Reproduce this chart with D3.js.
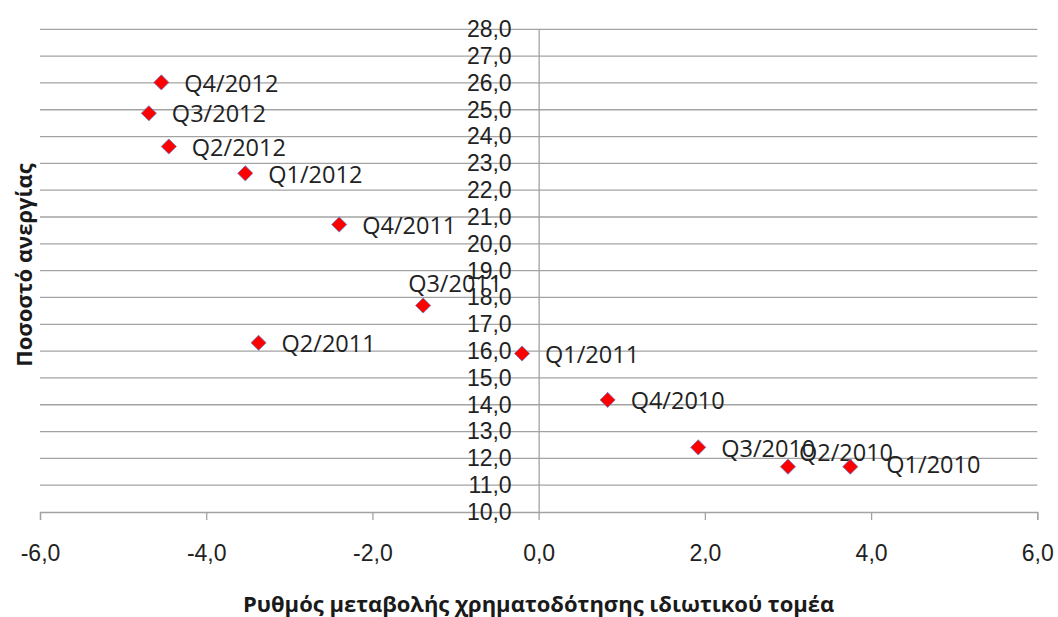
<!DOCTYPE html>
<html>
<head>
<meta charset="utf-8">
<script src="https://cdn.jsdelivr.net/npm/d3@7"></script>
<style>
  body { margin: 0; background: #fff; }
  svg { display: block; font-family: "Open Sans", sans-serif; }
  .grid line { stroke: #a3a3a3; stroke-width: 1.3; }
  .axis path, .axis line { stroke: #a3a3a3; stroke-width: 1.3; }
  .axis text { font-size: 23px; fill: #222; }
  .pt-label { font-size: 23.5px; fill: #222; }
  .title { font-size: 22px; font-weight: bold; fill: #1a1a1a; }
</style>
</head>
<body>
<div id="chart"></div>
<script>
// quarters, credit growth of private sector (x) and unemployment rate (y)
const quarters = ["Q1/2010", "Q2/2010", "Q3/2010", "Q4/2010", "Q1/2011", "Q2/2011",
                  "Q3/2011", "Q4/2011", "Q1/2012", "Q2/2012", "Q3/2012", "Q4/2012"];
const creditGrowth = [3.75, 3.00, 1.92, 0.83, -0.20, -3.37, -1.39, -2.40, -3.53, -4.45, -4.69, -4.54];
const unemployment = [11.69, 11.69, 12.41, 14.18, 15.91, 16.31, 17.70, 20.72, 22.63, 23.63, 24.87, 26.02];
const xTicks = [-6, -4, -2, 0, 2, 4, 6];
const yTicks = d3.range(10, 29);

const xTitle = "Ρυθμός μεταβολής χρηματοδότησης ιδιωτικού τομέα";
const yTitle = "Ποσοστό ανεργίας";

// where each data label sits relative to its marker (left edge, vertical centre)
const labelShift = {
    "Q1/2010": [36, -2], "Q2/2010": [11, -14], "Q3/2011": [-15, -22]
};

const width = 1058, height = 617;
const svg = d3.select('#chart').append('svg')
              .attr('width', width)
              .attr('height', height);

const x = d3.scaleLinear().domain([-6, 6]).range([40, 1037.3]);
const y = d3.scaleLinear().domain([10, 28]).range([512, 29.3]);

const locale = d3.formatLocale({ decimal: ",", thousands: ".", grouping: [3], currency: ["", "€"], minus: "-" });
const fmt = locale.format(".1f");

// horizontal gridlines
svg.append('g')
   .attr('class', 'grid')
   .selectAll('line')
   .data(yTicks.filter(d => d > 10))
   .enter()
   .append('line')
   .attr('x1', x(-6))
   .attr('x2', x(6))
   .attr('y1', d => y(d))
   .attr('y2', d => y(d));

// x axis at y = 10
const xAxis = d3.axisBottom(x).tickValues(xTicks).tickFormat(fmt)
                .tickSizeInner(8).tickSizeOuter(8).tickPadding(25);
svg.append('g')
   .attr('class', 'axis')
   .attr('transform', `translate(0, ${y(10)})`)
   .call(xAxis);

// y axis crossing at x = 0
const yAxis = d3.axisLeft(y).tickValues(yTicks).tickFormat(fmt)
                .tickSize(0).tickPadding(27);
svg.append('g')
   .attr('class', 'axis')
   .attr('transform', `translate(${x(0)}, 0)`)
   .call(yAxis);

// axis titles
svg.append('text')
   .attr('class', 'title')
   .attr('x', (x(-6) + x(6)) / 2)
   .attr('y', 604)
   .attr('dy', '0.35em')
   .attr('text-anchor', 'middle')
   .text(xTitle);

svg.append('text')
   .attr('class', 'title')
   .attr('transform', 'translate(24, 265) rotate(-90)')
   .attr('dy', '0.35em')
   .attr('text-anchor', 'middle')
   .text(yTitle);

const points = quarters.map((q, i) => ({ q, cx: creditGrowth[i], uy: unemployment[i] }));

// data labels
svg.append('g')
   .selectAll('text')
   .data(points)
   .enter()
   .append('text')
   .attr('class', 'pt-label')
   .attr('x', d => x(d.cx) + (labelShift[d.q] ? labelShift[d.q][0] : 23))
   .attr('y', d => y(d.uy) + (labelShift[d.q] ? labelShift[d.q][1] : 1))
   .attr('dy', '0.35em')
   .text(d => d.q);

// diamond markers
const diamond = d3.symbol().type(d3.symbolSquare).size(115);
svg.append('g')
   .selectAll('path')
   .data(points)
   .enter()
   .append('path')
   .attr('d', diamond)
   .attr('transform', d => `translate(${x(d.cx)}, ${y(d.uy)}) rotate(45)`)
   .attr('fill', '#ff0000')
   .attr('stroke', '#6b7fc4')
   .attr('stroke-width', 0.8);
</script>
</body>
</html>
